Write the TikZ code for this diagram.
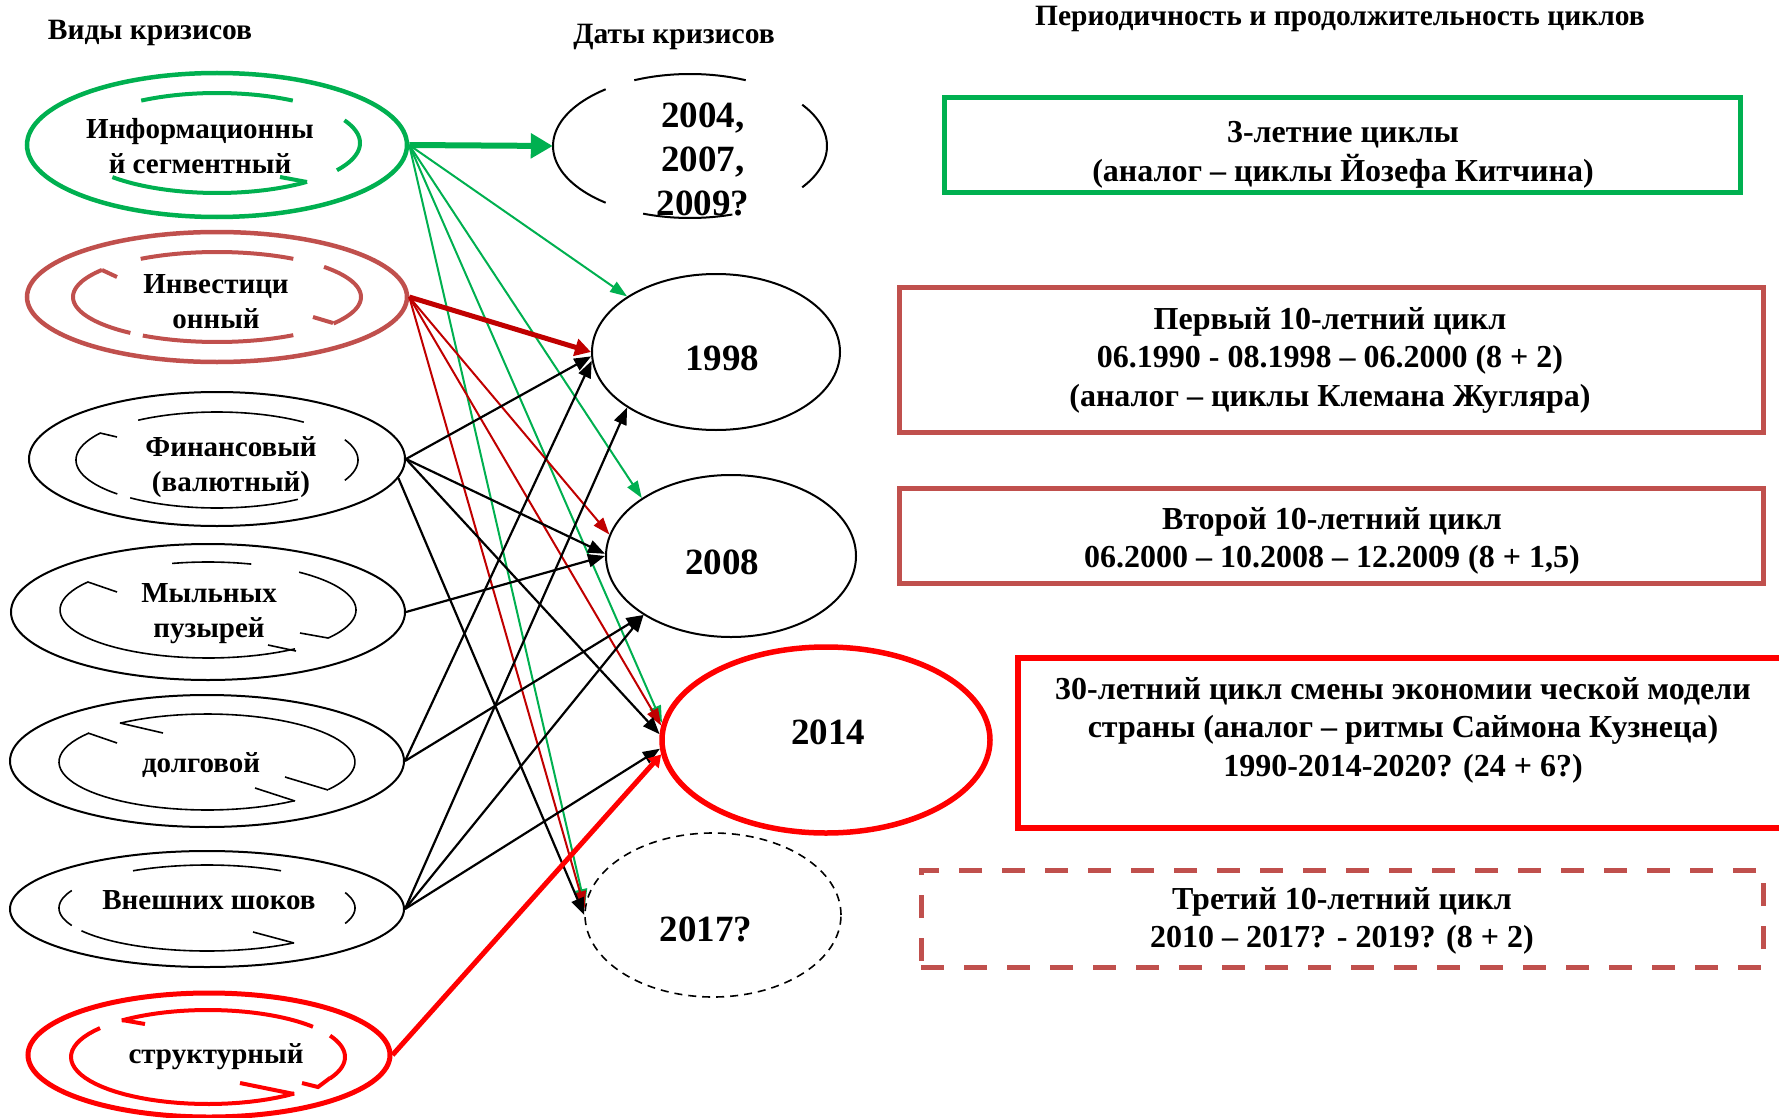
\documentclass[tikz,border=0pt]{standalone}
\usepackage{fontspec}
\setmainfont{Liberation Serif}
\usepackage{tikz}
\usetikzlibrary{shapes.geometric,arrows.meta}
\definecolor{grn}{HTML}{00B050}
\definecolor{brick}{HTML}{C0504D}
\definecolor{dred}{HTML}{C00000}
\definecolor{bred}{HTML}{FF0000}

% broken inner ring: style, cx, cy, rx, ry, list of arcs a/b (degrees, counter-clockwise)
\newcommand{\ringarcs}[6]{%
  \foreach \a/\b in {#6}
    \draw[#1] plot[domain=\a:\b, samples=40] ({#2+#4*cos(\x)},{#3-#5*sin(\x)});
}

\tikzset{
  kind/.style={ellipse, draw, line width=2pt, inner sep=0pt},
  yrs/.style={ellipse, inner sep=0pt},
  lbl/.style={font=\fontsize{29}{35}\selectfont\bfseries, align=center, inner sep=0pt},
  yrtext/.style={font=\fontsize{37}{44}\selectfont\bfseries, align=center, inner sep=0pt},
  hdr/.style={font=\fontsize{29.5}{34}\selectfont\bfseries, inner sep=0pt},
  cyc/.style={rectangle, line width=5pt, inner sep=0pt},
  ctext/.style={font=\fontsize{32}{38.5}\selectfont\bfseries, align=center, inner sep=0pt},
  garr/.style={draw=grn, line width=2pt, -{Triangle[length=17pt,width=12pt]}},
  rarr/.style={draw=dred, line width=2pt, -{Triangle[length=17pt,width=12pt]}},
  barr/.style={draw=black, line width=2.2pt, -{Triangle[length=17pt,width=13pt]}},
}

\begin{document}
\begin{tikzpicture}[x=1pt,y=-1pt]
    \useasboundingbox (0,0) rectangle (1779,1118);
    \clip (0,0) rectangle (1779,1118);

    % Column headers
    \node[hdr] (h-kind) at (150,33) {Виды кризисов};
    \node[hdr] (h-date) at (674,37) {Даты кризисов};
    \node[hdr] (h-cyc) at (1340,19) {Периодичность и продолжительность циклов};

    % Kinds of crises (outer ellipses)
    \node[kind, draw=grn, line width=4.5pt, minimum width=380pt, minimum height=144pt] (inf) at (217,145) {};
    \node[kind, draw=brick, line width=4.5pt, minimum width=380pt, minimum height=130pt] (inv) at (217,297) {};
    \node[kind, minimum width=376pt, minimum height=134pt] (fin) at (217,459) {};
    \node[kind, minimum width=394pt, minimum height=136pt] (myl) at (208,612) {};
    \node[kind, minimum width=394pt, minimum height=132pt] (dol) at (207,761) {};
    \node[kind, minimum width=394pt, minimum height=116pt] (ext) at (207,909) {};
    \node[kind, draw=bred, line width=5pt, minimum width=362pt, minimum height=124pt] (str) at (209,1055) {};

    % Inner circular arrows
    \ringarcs{grn, line width=4pt}{217}{143}{143}{50}{58/122,-33/27,223/309}
    \draw[grn, line width=4pt] (307,182) -- (280,177);
    \ringarcs{brick, line width=4pt}{217}{297}{144}{45}{58/122,143/233,-36/42,239/302}
    \draw[brick, line width=4pt] (102,270) -- (117,277);
    \draw[brick, line width=4pt] (333,323) -- (313,317);
    \ringarcs{line width=1.6pt}{217}{460}{141}{48}{52/124,146/225,-25/25,232/305}
    \draw[line width=1.6pt] (100,433) -- (117,437);
    \ringarcs{line width=1.6pt}{208}{610}{148}{48}{73/104,144/306,-36/52}
    \draw[line width=1.6pt] (88,582) -- (117,592);
    \draw[line width=1.6pt] (328,638) -- (300,633);
    \draw[line width=1.6pt] (268,645) -- (296,651);
    \ringarcs{line width=1.6pt}{207}{762}{148}{48}{-35/126,143/306}
    \draw[line width=1.6pt] (120,723) -- (163,733);
    \draw[line width=1.6pt] (88,733) -- (117,743);
    \draw[line width=1.6pt] (255,788) -- (295,801);
    \draw[line width=1.6pt] (328,790) -- (285,777);
    \ringarcs{line width=1.6pt}{207}{908}{148}{43}{60/120,156/204,-21/21,212/306}
    \draw[line width=1.6pt] (253,932) -- (294,943);
    \ringarcs{bred, line width=4pt}{208}{1057}{137}{47}{40/129,142/309,-27/27}
    \draw[bred, line width=4pt] (122,1020) -- (145,1024);
    \draw[bred, line width=4pt] (240,1083) -- (294,1094);
    \draw[bred, line width=4pt] (330,1078) -- (318,1087) -- (302,1083);

    % Labels of kinds
    \node[lbl] (t-inf) at (200,146) {Информационны\\й сегментный};
    \node[lbl] (t-inv) at (216,302) {Инвестици\\онный};
    \node[lbl] (t-fin) at (231,467) {Финансовый\\(валютный)};
    \node[lbl] (t-myl) at (209,614) {Мыльных\\пузырей};
    \node[lbl] (t-dol) at (201,765) {долговой};
    \node[lbl] (t-ext) at (209,900) {Внешних шоков};
    \node[lbl] (t-str) at (216,1057) {структурный};

    % Crisis dates
    \node[yrs, minimum width=274pt, minimum height=144pt] (d0407) at (690,146) {};
    \ringarcs{line width=2pt}{690}{146}{137}{72}{66/114,128/232,-35/35,250/288}
    \node[yrs, draw, line width=2pt, minimum width=248pt, minimum height=156pt] (d1998) at (716,352) {};
    \node[yrs, draw, line width=2pt, minimum width=250pt, minimum height=162pt] (d2008) at (731,556) {};
    \node[yrs, draw=bred, line width=5.5pt, minimum width=328pt, minimum height=186pt] (d2014) at (826,740) {};
    \node[yrs, draw, line width=1.6pt, dash pattern=on 8pt off 6pt, minimum width=256pt, minimum height=164pt] (d2017) at (713,915) {};
    \node[yrtext] (l0407) at (703,159) {2004,\\2007,\\2009?};
    \node[yrtext] (l1998) at (722,358) {1998};
    \node[yrtext] (l2008) at (722,562) {2008};
    \node[yrtext] (l2014) at (828,732) {2014};
    \node[yrtext] (l2017) at (706,929) {2017?};

    % Links from kinds to dates
    \draw[grn, line width=6pt, -{Triangle[length=22pt,width=24pt]}] (inf.east) -- (d0407.west);
    \draw[garr] (inf.east) -- (d1998.148);
    \draw[garr] (inf.east) -- (d2008.147);
    \draw[garr] (inf.east) -- (d2014.174);
    \draw[garr] (inf.east) -- (d2017.176);
    \draw[dred, line width=5pt, -{Triangle[length=16pt,width=17pt]}] (inv.east) -- (d1998.west);
    \draw[rarr] (inv.east) -- (d2008.170);
    \draw[rarr] (inv.east) -- (d2014.175);
    \draw[rarr] (inv.east) -- (d2017.177);
    \draw[barr] (fin.east) -- (d1998.182);
    \draw[barr] (fin.east) -- (d2008.179);
    \draw[barr] (fin.east) -- (d2014.178);
    \draw[barr] (fin.-6) -- (d2017.180);
    \draw[barr] (myl.east) -- (d2008.west);
    \draw[barr] (dol.east) -- (d1998.184);
    \draw[barr] (dol.east) -- (d2008.214);
    \draw[barr] (ext.east) -- (d1998.212);
    \draw[barr] (ext.east) -- (d2008.214);
    \draw[barr] (ext.east) -- (d2014.183);
    \draw[bred, line width=5pt, -{Triangle[length=12pt,width=14pt]}] (str.east) -- (d2014.185);

    % Cycles
    \node[cyc, draw=grn, minimum width=796pt, minimum height=95pt] (c-kitchin) at (1342,145.5) {};
    \node[cyc, draw=brick, minimum width=864pt, minimum height=145pt] (c-juglar) at (1331,359.5) {};
    \node[cyc, draw=brick, minimum width=864pt, minimum height=95pt] (c-second) at (1331,535.5) {};
    \node[cyc, draw=bred, line width=5.5pt, minimum width=772pt, minimum height=170pt] (c-kuznets) at (1404,743) {};
    \node[cyc, draw=brick, dash pattern=on 23pt off 20pt, minimum width=842pt, minimum height=97pt] (c-third) at (1342,918.5) {};
    \node[ctext] (x-kitchin) at (1343,155) {3-летние циклы\\(аналог – циклы Йозефа Китчина)};
    \node[ctext] (x-juglar) at (1330,360) {Первый 10-летний цикл\\06.1990 - 08.1998 – 06.2000 (8 + 2)\\(аналог – циклы Клемана Жугляра)};
    \node[ctext] (x-second) at (1332,541) {Второй 10-летний цикл\\06.2000 – 10.2008 – 12.2009 (8 + 1,5)};
    \node[ctext] (x-kuznets) at (1403,730) {30-летний цикл смены экономии ческой модели\\страны (аналог – ритмы Саймона Кузнеца)\\1990-2014-2020? (24 + 6?)};
    \node[ctext] (x-third) at (1342,921) {Третий 10-летний цикл\\2010 – 2017? - 2019? (8 + 2)};
\end{tikzpicture}
\end{document}
